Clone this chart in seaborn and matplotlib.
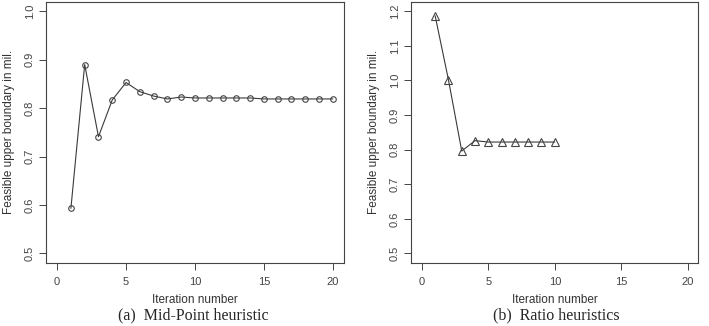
import seaborn as sns
import matplotlib.pyplot as plt
import pandas as pd

# values
mid_iter = list(range(1, 21))
mid_bound = [0.593, 0.890, 0.741, 0.817, 0.853, 0.834, 0.825, 0.819, 0.823, 0.821,
             0.821, 0.821, 0.821, 0.821, 0.819, 0.819, 0.819, 0.819, 0.819, 0.819]

ratio_iter = list(range(1, 11))
ratio_bound = [1.187, 1.002, 0.796, 0.826, 0.822, 0.822, 0.822, 0.822, 0.822, 0.822]

x_ticks = [0, 5, 10, 15, 20]
mid_yticks = [0.5, 0.6, 0.7, 0.8, 0.9, 1.0]
ratio_yticks = [0.5, 0.6, 0.7, 0.8, 0.9, 1.0, 1.1, 1.2]

mid_df = pd.DataFrame({"iteration": mid_iter, "bound": mid_bound})
ratio_df = pd.DataFrame({"iteration": ratio_iter, "bound": ratio_bound})

# feel and look
sns.set_style("ticks")
plt.rcParams["font.family"] = ["Liberation Sans", "DejaVu Sans"]

line_col = "#3a3a3a"
fig = plt.figure(figsize=(7.09, 3.26), dpi=100)
ax1 = fig.add_axes([0.065, 0.193, 0.42, 0.802])
ax2 = fig.add_axes([0.580, 0.193, 0.405, 0.802])


def style_axis(ax, yticks, ylim):
    # R style: 4% padding on each side
    pad = 0.04 * (ylim[1] - ylim[0])
    ax.set_xlim(-0.8, 20.8)
    ax.set_ylim(ylim[0] - pad, ylim[1] + pad)
    ax.set_xticks(x_ticks)
    ax.set_yticks(yticks)
    ax.set_yticklabels([f"{v:.1f}" for v in yticks], rotation=90, va="center")
    ax.tick_params(labelsize=8, length=5, width=0.7, colors="#444444", labelcolor="#444444")
    ax.tick_params(axis="x", pad=5)
    ax.tick_params(axis="y", pad=3)
    for s in ax.spines.values():
        s.set_visible(True)
        s.set_linewidth(0.8)
        s.set_color("#444444")
    ax.set_xlabel("Iteration number", fontsize=8.5, color="#333333", labelpad=5)
    ax.set_ylabel("Feasible upper boundary in mil.", fontsize=8.5, color="#333333", labelpad=7)


sns.lineplot(data=mid_df, x="iteration", y="bound", ax=ax1, color=line_col, linewidth=0.8,
             marker="o", markersize=4, markerfacecolor="none", markeredgecolor="#444444",
             markeredgewidth=0.8)
style_axis(ax1, mid_yticks, (0.5, 1.0))

sns.lineplot(data=ratio_df, x="iteration", y="bound", ax=ax2, color=line_col, linewidth=0.8,
             marker="^", markersize=6, markerfacecolor="none", markeredgecolor="#444444",
             markeredgewidth=0.8)
style_axis(ax2, ratio_yticks, (0.5, 1.2))

# captions under each panel
fig.text(0.272, 0.008, "(a)  Mid-Point heuristic", ha="center", va="bottom", fontsize=11.5,
         family=["Liberation Serif", "DejaVu Serif"])
fig.text(0.785, 0.008, "(b)  Ratio heuristics", ha="center", va="bottom", fontsize=11.5,
         family=["Liberation Serif", "DejaVu Serif"])

fig.savefig("out.png", dpi=100)
